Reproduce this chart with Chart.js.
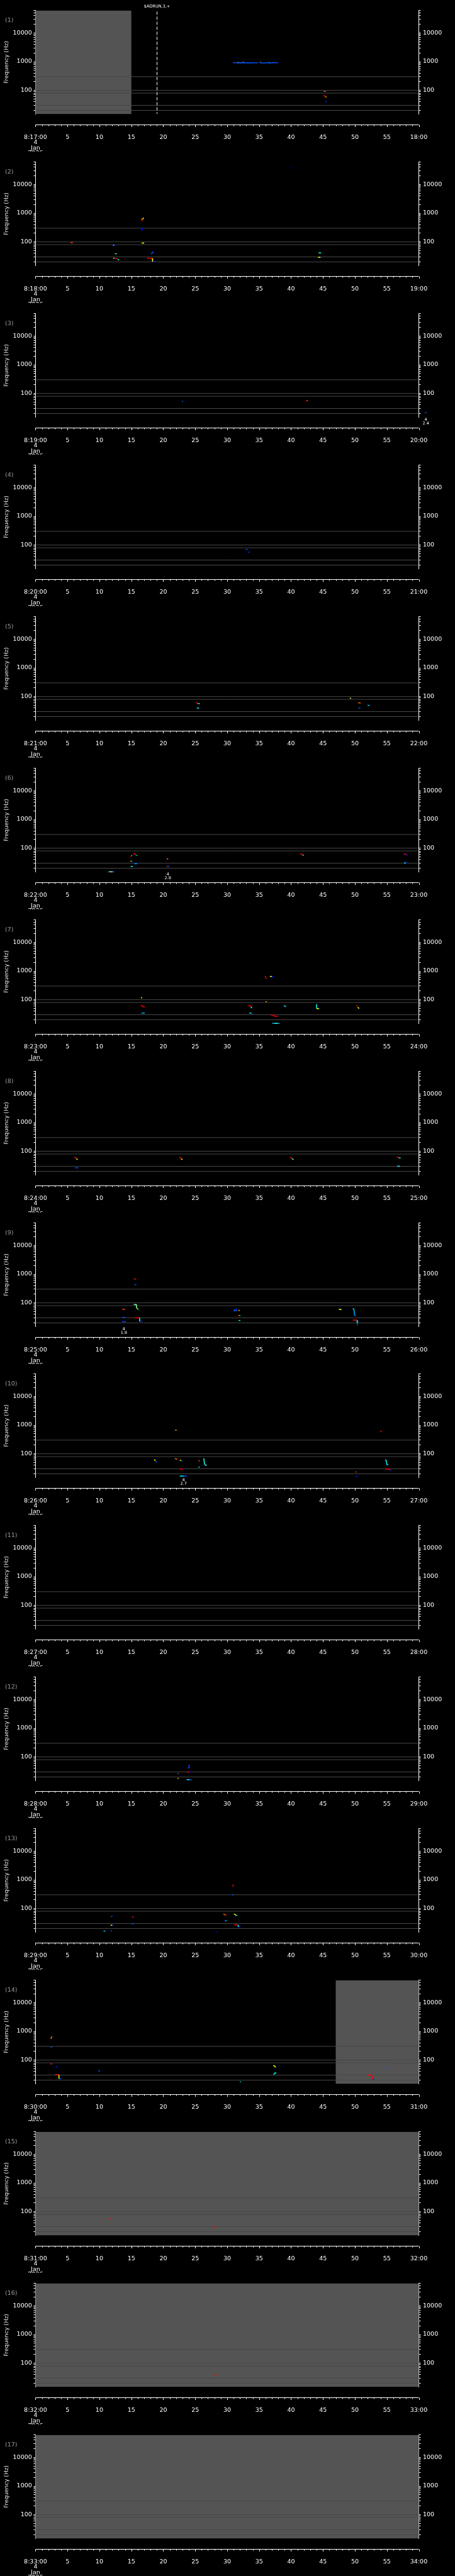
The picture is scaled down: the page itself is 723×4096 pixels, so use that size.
<!DOCTYPE html>
<html>
<head>
<meta charset="utf-8">
<script src="https://cdn.jsdelivr.net/npm/chart.js@4.4.1/dist/chart.umd.min.js"></script>
<style>
  html, body { margin: 0; padding: 0; background: #000; }
  #wrap { position: relative; width: 723px; height: 4096px; overflow: hidden; background: #000; }
  .panel { position: absolute; left: 0; width: 723px; height: 241px; }
</style>
</head>
<body>
<div id="wrap"></div>
<script>
// ---- data ----
const startMinute = 17;          // panel 1 starts at 8:17:00
const panelCount = 17;
const dateLines = ['4', 'Jan', '2026'];
const xTickValues = [0, 5, 10, 15, 20, 25, 30, 35, 40, 45, 50, 55, 60];
const yMin = 15, yMax = 60000;
const yTickValues = [20, 30, 40, 50, 60, 70, 80, 90, 100, 200, 300, 400, 500, 600, 700, 800, 900,
  1000, 2000, 3000, 4000, 5000, 6000, 7000, 8000, 9000, 10000, 20000, 30000, 40000, 50000, 60000];
const yLabelValues = [100, 1000, 10000];
const refLines = [300, 100, 80, 30, 20];              // Hz
const grayRanges = [[1, 0, 15], [14, 47, 60], [15, 0, 60], [16, 0, 60], [17, 0, 60]]; // panel, from s, to s
const events = [[1, 19, '$ADRUN,3,+']];               // panel, second, text
const notes = [[3, 61.1, '4', '2.4'], [6, 20.72, '4', '2.9'], [9, 13.83, '4', '1.9'], [10, 23.17, '4', '2.7']];

// tracks: [intensity 0..1, [[second, Hz], ...]]
const p1 = [
  [0.2, [[30.9,920],[31.4,915],[31.9,900],[32.3,930],[32.8,910],[33.3,920],[33.8,905],[34.3,915],[34.8,910]]],
  [0.2, [[35.1,935],[35.5,895],[35.9,890],[36.4,930],[36.9,905],[37.4,925],[38.0,910]]],
  [0.62, [[31.6,930],[31.9,925]]], [0.4, [[32.0,915],[32.3,925]]], [0.62, [[32.4,935],[32.7,925]]],
  [0.62, [[35.1,935],[35.3,930]]], [0.4, [[36.5,930],[36.8,920]]],
  [0.88, [[45.05,92],[45.25,92]]], [0.38, [[45.25,92],[45.4,92]]],
  [0.88, [[45.05,65],[45.3,64],[45.4,59]]], [0.62, [[45.4,59],[45.55,58.5]]],
  [0.15, [[45.35,40.5],[45.63,40.5]]]
];
const p2 = [
  [0.82, [[5.5,94],[5.85,94]]],
  [0.38, [[12.15,77],[12.3,75]]], [0.15, [[12.3,75],[12.45,77]]],
  [0.45, [[12.43,38.5],[12.71,38.5]]],
  [0.45, [[12.15,26.9],[12.35,26.9]]], [0.88, [[12.35,26.9],[12.85,26]]], [0.38, [[12.85,24.5],[13.08,23.6]]],
  [0.88, [[16.55,650],[16.65,560],[16.7,600]]], [0.62, [[16.7,600],[16.94,690]]],
  [0.15, [[16.55,262],[16.7,262],[16.75,295],[16.85,300]]],
  [0.62, [[16.62,91],[17.01,91]]],
  [0.2, [[18.06,38.9],[18.25,38.9],[18.3,44],[18.52,44.4]]],
  [0.88, [[17.48,26.9],[18.29,26.9]]], [0.62, [[18.29,26.9],[18.33,20.5]]], [0.15, [[18.33,20.5],[18.75,20.5]]],
  [0.1, [[40.2,38000],[40.4,38000]]],
  [0.38, [[44.3,41.4],[44.7,41.4]]],
  [0.62, [[44.24,29],[44.6,29]]], [0.15, [[44.6,29],[44.8,29]]]
];
const p3 = [
  [0.2, [[22.9,53],[23.1,53]]],
  [0.88, [[42.3,56.3],[42.5,56.3]]], [0.38, [[42.5,56.3],[42.6,56.3]]],
  [0.2, [[60.95,21.2],[61.2,21.2]]]
];
const p4 = [
  [0.2, [[32.9,70],[33.2,70]]],
  [0.2, [[33.3,56.3],[33.5,56.3]]]
];
const p5 = [
  [0.88, [[25.1,61.3],[25.3,61],[25.4,57.1]]], [0.45, [[25.4,57.1],[25.7,57.1]]],
  [0.38, [[25.26,39.9],[25.6,39.9]]],
  [0.55, [[49.2,87.7],[49.4,87.7]]],
  [0.78, [[50.5,61],[50.7,61],[50.9,59]]],
  [0.2, [[50.55,39.9],[50.85,39.9]]],
  [0.3, [[52.0,51.3],[52.1,49],[52.3,49]]]
];
const p6 = [
  [0.15, [[11.23,15],[11.5,15]]], [0.55, [[11.5,15],[12.1,15]]], [0.15, [[12.1,15],[12.45,15]]],
  [0.88, [[14.86,50.6],[15.0,50.6]]],
  [0.5, [[15.0,55],[15.14,55]]],
  [0.88, [[15.28,62.8],[15.55,62.8],[15.69,57]]], [0.38, [[15.74,56.4],[15.88,56.4]]],
  [0.62, [[14.86,35.4],[15.0,35.4]]], [0.2, [[15.0,34],[15.2,34]]],
  [0.25, [[15.46,28.7],[15.93,28.7]]],
  [0.38, [[14.9,23.1],[15.23,23.1]]],
  [0.88, [[20.49,42.4],[20.6,42.4]]], [0.5, [[20.6,42.4],[20.76,42.4]]],
  [0.88, [[20.49,23.1],[20.7,23.1]]], [0.2, [[20.7,23.1],[20.95,23.1]]],
  [0.88, [[41.4,62.8],[41.65,62],[41.8,57.5]]], [0.38, [[41.8,57],[42.0,57]]],
  [0.88, [[57.6,62.8],[57.85,62],[58.0,57]]], [0.15, [[58.0,57],[58.25,58]]],
  [0.38, [[57.7,30.4],[58.0,30.4]]], [0.15, [[58.0,30.4],[58.25,30.4]]]
];
const p7 = [
  [0.62, [[16.5,117],[16.7,117]]],
  [0.88, [[16.5,62.7],[16.7,62],[16.8,57.3],[17.1,57.3]]],
  [0.3, [[16.6,34.2],[17.1,34.2]]],
  [0.88, [[33.3,62.7],[33.6,62],[33.7,57]]], [0.38, [[33.7,57],[33.9,51.2]]],
  [0.38, [[33.5,34.2],[33.8,34.2]]], [0.15, [[33.8,34.2],[33.9,30.7]]],
  [0.88, [[35.9,667],[36.0,640],[36.1,530]]],
  [0.62, [[36.7,647],[37.0,647]]], [0.15, [[37.0,647],[37.2,620],[37.3,600]]],
  [0.7, [[36.0,85.6],[36.2,85.6]]],
  [0.88, [[36.8,29.7],[37.2,29.3],[37.4,26.6],[37.96,26.6]]],
  [0.3, [[37.05,15],[37.4,15]]], [0.45, [[37.4,15],[37.9,15]]], [0.3, [[37.9,15],[38.2,15]]],
  [0.38, [[38.9,62.7],[39.0,60],[39.2,57]]],
  [0.38, [[44.0,69.9],[44.0,48.9]]], [0.62, [[44.0,48.9],[44.4,48.9]]],
  [0.88, [[50.2,62.7],[50.45,61]]], [0.62, [[50.45,55],[50.65,48.9]]]
];
const p8 = [
  [0.88, [[6.08,62.7],[6.3,60],[6.4,55]]], [0.62, [[6.4,55],[6.58,51.2]]],
  [0.2, [[6.2,26.6],[6.67,26.6]]],
  [0.88, [[22.5,62.7],[22.7,60],[22.8,55]]], [0.62, [[22.8,55],[23.0,51.2]]],
  [0.88, [[39.8,62.7],[40.0,60],[40.15,55]]], [0.5, [[40.15,55],[40.4,51.2]]],
  [0.88, [[56.55,62.7],[56.85,62]]], [0.38, [[56.85,59],[57.15,59]]],
  [0.38, [[56.6,30.2],[57.05,30.2]]]
];
const p9 = [
  [0.82, [[13.56,60.8],[13.75,60],[14.0,58]]],
  [0.2, [[13.6,31.2],[14.0,31.2]]],
  [0.2, [[13.56,22.2],[14.15,22.2]]],
  [0.88, [[15.37,679],[15.74,679]]],
  [0.2, [[15.5,431],[15.8,431]]],
  [0.3, [[15.35,83],[15.45,88]]], [0.5, [[15.45,88],[15.75,88],[15.8,70],[15.95,62]]],
  [0.62, [[15.95,62],[16.05,60]]], [0.38, [[16.05,58],[16.15,58]]],
  [0.88, [[15.55,30.2],[16.28,30.2]]], [0.38, [[16.28,31.2],[16.3,22.8]]], [0.2, [[16.3,22.8],[16.64,22.8]]],
  [0.2, [[31.07,60],[31.1,52],[31.3,55],[31.4,60],[31.5,52]]],
  [0.7, [[31.75,56],[31.97,53]]],
  [0.8, [[31.75,36.3],[31.9,36.3]]], [0.38, [[31.9,36.3],[32.06,36.3]]],
  [0.38, [[31.8,24.3],[32.06,24.3]]],
  [0.62, [[47.5,60.8],[47.9,58]]],
  [0.35, [[49.66,63.6],[49.85,60]]], [0.3, [[49.85,60],[49.95,36.3]]], [0.2, [[49.95,36.3],[50.2,36.3]]],
  [0.88, [[49.66,25],[50.3,25]]], [0.38, [[50.3,25],[50.35,22.2]]], [0.2, [[50.35,22.2],[50.57,22.2]]]
];
const p10 = [
  [0.7, [[21.86,667],[22.09,667]]],
  [0.88, [[54.0,637],[54.1,600],[54.2,579]]],
  [0.62, [[18.55,61.8],[18.8,58]]], [0.2, [[18.8,55],[19.0,50.5]]],
  [0.78, [[21.8,67.8],[22.2,64.7]]],
  [0.62, [[22.6,59],[22.8,59]]], [0.2, [[22.8,57],[23.0,56]]],
  [0.78, [[25.5,57],[25.7,57]]],
  [0.4, [[26.35,69.9],[26.45,45],[26.6,40],[26.8,40]]],
  [0.38, [[25.5,34.2],[25.7,34.2]]],
  [0.88, [[22.6,29.2],[23.1,29.2]]], [0.15, [[23.1,29.8],[23.3,29.8]]],
  [0.38, [[22.6,16.7],[23.2,16.7]]], [0.2, [[23.2,16.7],[23.7,16.7]]],
  [0.8, [[50.1,23.2],[50.25,23.2]]],
  [0.15, [[50.15,16],[50.4,16]]],
  [0.38, [[54.74,61.8],[54.9,58],[55.0,42],[55.2,41.8]]],
  [0.88, [[54.74,29.2],[55.4,29.2],[55.5,27]]], [0.15, [[55.5,27],[55.64,25.1]]]
];
const p11 = [];
const p12 = [
  [0.2, [[24.05,53.7],[24.05,41.8]]], [0.2, [[23.8,41.8],[24.0,41.8]]],
  [0.88, [[23.7,29.8],[24.2,29.8]]], [0.15, [[24.2,29.8],[24.45,29.8]]],
  [0.75, [[22.27,26.2],[22.35,26.2]]], [0.2, [[22.35,26.2],[22.45,26.2]]],
  [0.62, [[22.25,17.8],[22.4,17.8]]],
  [0.38, [[23.67,16.2],[24.1,16.2]]], [0.2, [[24.1,16.2],[24.45,16]]]
];
const p13 = [
  [0.9, [[30.93,694],[30.93,567]]],
  [0.2, [[30.7,300],[31.0,300]]],
  [0.2, [[11.8,53],[12.06,53]]],
  [0.88, [[15.1,49],[15.25,51]]], [0.2, [[15.25,51],[15.37,53]]],
  [0.62, [[11.75,26],[12.0,26]]], [0.2, [[12.0,26],[12.15,26]]],
  [0.2, [[15.1,28.9],[15.37,28.9]]],
  [0.38, [[10.66,16.3],[10.85,16.3]]], [0.2, [[10.85,16.3],[11.0,16.3]]],
  [0.2, [[11.75,16.8],[12.0,16.8]]],
  [0.1, [[28.3,15.1],[28.5,15.1]]],
  [0.8, [[29.4,63.8],[29.6,62],[29.85,57.3]]],
  [0.62, [[31.07,64.8],[31.3,60],[31.4,57.3]]], [0.38, [[31.4,57.3],[31.6,57.3]]],
  [0.2, [[29.57,37.1],[29.75,37.1]]], [0.38, [[29.75,37.1],[29.9,37.1]]],
  [0.88, [[31.07,26.8],[31.7,26.8]]], [0.38, [[31.7,26.8],[31.75,22.9]]], [0.15, [[31.75,22.9],[32.06,22.9]]]
];
const p14 = [
  [0.75, [[2.4,546],[2.5,620],[2.6,676]]],
  [0.2, [[2.36,275],[2.6,292]]],
  [0.85, [[2.36,73.3],[2.6,73.3]]],
  [0.15, [[3.17,59],[3.45,57]]],
  [0.88, [[3.04,31.1],[3.67,31.1]]], [0.62, [[3.67,31.1],[3.67,22.5]]], [0.2, [[3.67,22.5],[4.04,22.5]]],
  [0.2, [[9.84,43.8],[10.1,40]]],
  [0.38, [[32.0,17.5],[32.15,17.5]]],
  [0.62, [[37.2,63.7],[37.45,62],[37.55,57]]], [0.38, [[37.55,56],[37.65,56]]],
  [0.38, [[37.3,30.7],[37.45,35.3],[37.7,35.3]]],
  [0.88, [[52.0,30.2],[52.5,29.5],[52.7,27],[52.85,21.4]]], [0.15, [[52.85,21.4],[53.05,21.4]]],
  [0.2, [[54.9,49.6],[55.1,49.6]]]
];
const p15 = [
  [0.88, [[11.5,56],[11.8,56]]],
  [0.88, [[27.8,28.6],[28.2,28.6]]]
];
const p16 = [
  [0.88, [[28.0,39],[28.3,39]]]
];
const p17 = [];
const panelTracks = [p1, p2, p3, p4, p5, p6, p7, p8, p9, p10, p11, p12, p13, p14, p15, p16, p17];

// ---- layout (0.705 of the 1024 wide original) ----
const W = 723, H = 241;
const PANEL_STEP = 4096 / panelCount;
const PAD_TOP = 16.9, LEFT_W = 56.4, RIGHT_W = 57.5, BOTTOM_H = 59.8, AXIS_GAP = 16.9;
const FONT = 'DejaVu Sans';

function jet(v) {
  const c = t => Math.round(255 * Math.max(0, Math.min(1, 1.5 - Math.abs(4 * v - t))));
  return 'rgb(' + c(3) + ',' + c(2) + ',' + c(1) + ')';
}

const panelDecor = {
  id: 'panelDecor',
  beforeDatasetsDraw(chart, args, opts) {
    const {ctx, chartArea: a, scales: {x}} = chart;
    ctx.save();
    ctx.fillStyle = '#545454';
    grayRanges.filter(g => g[0] === opts.panel).forEach(g => {
      const x0 = x.getPixelForValue(g[1]), x1 = x.getPixelForValue(g[2]);
      ctx.fillRect(x0, a.top, x1 - x0, a.bottom - a.top);
    });
    ctx.restore();
  },
  afterDraw(chart, args, opts) {
    const {ctx, chartArea: a, scales: {x}} = chart;
    ctx.save();
    // detached time axis
    const yAx = Math.round(a.bottom + AXIS_GAP) + 0.5;
    ctx.strokeStyle = '#fff';
    ctx.lineWidth = 1;
    ctx.beginPath();
    ctx.moveTo(x.getPixelForValue(0), yAx);
    ctx.lineTo(x.getPixelForValue(60), yAx);
    for (let s = 0; s <= 60; s++) {
      const px = Math.round(x.getPixelForValue(s)) + 0.5;
      ctx.moveTo(px, yAx);
      ctx.lineTo(px, yAx + (s % 5 === 0 ? 3.5 : 2));
    }
    ctx.stroke();

    // panel number
    ctx.fillStyle = '#9a9a9a';
    ctx.font = '9.5px "' + FONT + '"';
    ctx.textAlign = 'left';
    ctx.textBaseline = 'middle';
    ctx.fillText('(' + opts.panel + ')', 8, 33);

    // small count notes under the plot
    ctx.fillStyle = '#fff';
    ctx.font = '6.5px "' + FONT + '"';
    ctx.textAlign = 'center';
    notes.filter(n => n[0] === opts.panel).forEach(n => {
      const px = x.getPixelForValue(n[1]);
      ctx.fillText(n[2], px, a.bottom + 4.4);
      ctx.fillText(n[3], px, a.bottom + 10.6);
    });

    // event markers
    events.filter(e => e[0] === opts.panel).forEach(e => {
      const px = Math.round(x.getPixelForValue(e[1])) + 0.5;
      ctx.setLineDash([5, 3]);
      ctx.beginPath();
      ctx.moveTo(px, a.top + 1.5);
      ctx.lineTo(px, a.bottom);
      ctx.stroke();
      ctx.setLineDash([]);
      ctx.fillText(e[2], px, 10.6);
    });
    ctx.restore();
  }
};

function yAxis(position) {
  return {
    type: 'logarithmic',
    position: position,
    min: yMin,
    max: yMax,
    z: 1,
    afterBuildTicks: s => { s.ticks = yTickValues.map(v => ({value: v})); },
    afterFit: s => { s.width = position === 'left' ? LEFT_W : RIGHT_W; },
    grid: {drawOnChartArea: false, drawTicks: true, tickLength: 3, color: '#fff', tickColor: '#fff', lineWidth: 1},
    border: {display: true, color: '#fff', width: 1},
    ticks: {
      autoSkip: false,
      color: '#fff',
      padding: position === 'left' ? 2.6 : 3.5,
      font: {family: FONT, size: 9.5},
      callback: v => yLabelValues.includes(v) ? String(v) : ''
    },
    title: {
      display: position === 'left',
      text: 'Frequency (Hz)',
      color: '#e0e0e0',
      font: {family: FONT, size: 9},
      padding: {top: 5, bottom: 0}
    }
  };
}

const wrap = document.getElementById('wrap');
for (let k = 1; k <= panelCount; k++) {
  const div = document.createElement('div');
  div.className = 'panel';
  div.style.top = Math.round((k - 1) * PANEL_STEP) + 'px';
  const cv = document.createElement('canvas');
  cv.width = W; cv.height = H;
  cv.style.width = W + 'px'; cv.style.height = H + 'px';
  div.appendChild(cv);
  wrap.appendChild(div);

  const minute = startMinute + k - 1;
  const datasets = [];
  panelTracks[k - 1].forEach(tr => {
    datasets.push({
      data: tr[1].map(p => ({x: p[0], y: p[1]})),
      showLine: true,
      borderColor: jet(tr[0]),
      borderWidth: 1.5,
      pointRadius: 0,
      clip: false,
      order: 1
    });
  });
  refLines.forEach(f => {
    datasets.push({
      data: [{x: 0, y: f}, {x: 60, y: f}],
      showLine: true,
      borderColor: '#474747',
      borderWidth: 1,
      pointRadius: 0,
      order: 2
    });
  });

  new Chart(cv.getContext('2d'), {
    type: 'scatter',
    data: {datasets: datasets},
    options: {
      responsive: false,
      animation: false,
      events: [],
      layout: {padding: {top: PAD_TOP, left: 0, right: 0, bottom: 0}},
      plugins: {legend: {display: false}, tooltip: {enabled: false}, panelDecor: {panel: k}},
      scales: {
        x: {
          type: 'linear',
          position: 'bottom',
          min: 0,
          max: 60,
          z: 1,
          afterBuildTicks: s => { s.ticks = xTickValues.map(v => ({value: v})); },
          afterFit: s => { s.height = BOTTOM_H; },
          grid: {display: false},
          border: {display: false},
          ticks: {
            autoSkip: false,
            maxRotation: 0,
            color: '#fff',
            padding: 24.6,
            font: {family: FONT, size: 9.5, lineHeight: 0.9},
            callback: v => {
              if (v === 0) return ['8:' + minute + ':00'].concat(dateLines);
              if (v === 60) return (minute + 1) + ':00';
              return String(v);
            }
          }
        },
        y: yAxis('left'),
        y2: yAxis('right')
      }
    },
    plugins: [panelDecor]
  });
}
</script>
</body>
</html>
